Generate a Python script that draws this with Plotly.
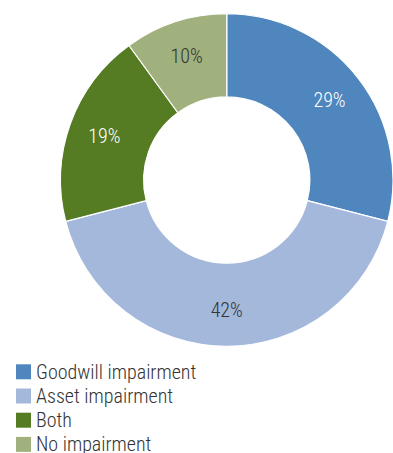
import plotly.graph_objects as go

# Share of companies by type of impairment recognised
labels = ["Goodwill impairment", "Asset impairment", "Both", "No impairment"]
values = [29, 42, 19, 10]
colors = ["#4F86BE", "#A3B8DB", "#557B23", "#A0B17E"]
text_colors = ["#FFFFFF", "#333333", "#FFFFFF", "#333333"]

W, H = 393, 453
FONT = "Roboto Condensed, Liberation Sans Narrow, sans-serif"
domain = dict(x=[60.5 / W, 1.0], y=[1 - 347 / H, 1 - 13 / H])
common = dict(labels=labels, values=values, sort=False, direction="clockwise",
              rotation=0, showlegend=False, domain=domain, hoverinfo="skip")

fig = go.Figure()

# Donut ring
fig.add_trace(go.Pie(
    **common,
    hole=0.5,
    marker=dict(colors=colors, line=dict(color="#FFFFFF", width=1.2)),
    textinfo="none",
))

# Percent labels, set a little towards the outer edge of the ring
fig.add_trace(go.Pie(
    **common,
    hole=0.565,
    marker=dict(colors=["rgba(0,0,0,0)"] * len(values), line=dict(width=0)),
    texttemplate="%{percent:.0%}",
    textposition="inside",
    insidetextorientation="horizontal",
    textfont=dict(family=FONT, size=20, weight=300, color=text_colors),
))

# Legend block: coloured squares with labels, stacked below the donut
sw, x0, row0, step = 15, 16, 371.8, 24.2
shapes, annotations = [], []
for i, (lab, col) in enumerate(zip(labels, colors)):
    cy = row0 + i * step
    shapes.append(dict(
        type="rect", xref="paper", yref="paper",
        x0=x0 / W, x1=(x0 + sw) / W,
        y0=1 - (cy + sw / 2) / H, y1=1 - (cy - sw / 2) / H,
        fillcolor=col, line=dict(width=0),
    ))
    annotations.append(dict(
        text=lab, xref="paper", yref="paper",
        x=(x0 + sw + 4) / W, y=1 - cy / H,
        xanchor="left", yanchor="middle", showarrow=False, borderpad=0,
        font=dict(family=FONT, size=20, weight=300, color="#333333"),
    ))

fig.update_layout(
    width=W, height=H,
    margin=dict(l=0, r=0, t=0, b=0),
    paper_bgcolor="#FFFFFF", plot_bgcolor="#FFFFFF",
    shapes=shapes, annotations=annotations,
    uniformtext=dict(minsize=20, mode="show"),
)

fig.write_html("out.html")
